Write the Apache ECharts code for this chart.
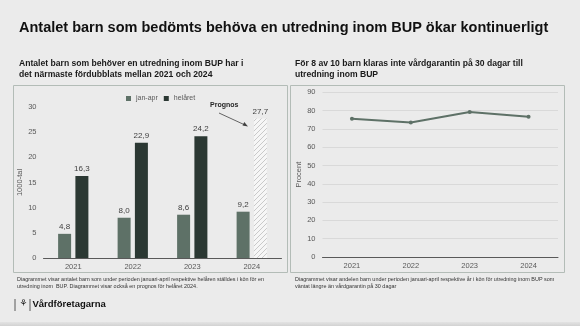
<!DOCTYPE html>
<html><head><meta charset="utf-8">
<script src="https://cdn.jsdelivr.net/npm/echarts@6/dist/echarts.min.js"></script>
<style>html,body{margin:0;padding:0;background:#ebebeb;}#c{width:580px;height:326px;}</style>
</head><body><div id="c"></div>
<script>
const years = ['2021','2022','2023','2024'];
const janApr = [4.8, 8.0, 8.6, 9.2];
const helaret = [16.3, 22.9, 24.2, 27.7];
const forecastIndex = 3;
const procent = [75.5, 73.5, 79.2, 76.6];
const leftTicks = {min:0, max:30, interval:5};
const rightTicks = {min:0, max:90, interval:10};

const F = 'Liberation Sans, Arial, sans-serif';
const cGreen = '#5e7167', cDark = '#2b3833', cTxt = '#404040', cAx = '#595959';

// hatch pattern for forecast bar
const pc = document.createElement('canvas'); pc.width = 5; pc.height = 5;
const px = pc.getContext('2d');
px.fillStyle = '#f6f6f6'; px.fillRect(0,0,5,5);
px.strokeStyle = '#c4c4c4'; px.lineWidth = 0.9;
px.beginPath(); px.moveTo(-1,6); px.lineTo(6,-1); px.moveTo(-1,1); px.lineTo(1,-1); px.moveTo(4,6); px.lineTo(6,4); px.stroke();

const fmt = p => String(Number(p.value).toFixed(1)).replace('.', ',');
const helData = helaret.map((v,i) => i === forecastIndex
  ? {value:v, itemStyle:{color:{image:pc, repeat:'repeat'}}}
  : v);

const chart = echarts.init(document.getElementById('c'), null, {renderer:'canvas'});
chart.setOption({
  backgroundColor:'#ebebeb',
  animation:false,
  textStyle:{fontFamily:F},
  legend:{data:['jan-apr','helåret'], left:121, top:90, itemWidth:5, itemHeight:5, itemGap:6,
    icon:'rect', textStyle:{fontSize:7, color:cAx, fontFamily:F}},
  grid:[
    {left:43.5, right:298.5, top:107, bottom:68, containLabel:false},
    {left:322.5, right:22, top:92.3, bottom:69, containLabel:false}
  ],
  xAxis:[
    {gridIndex:0, type:'category', data:years, axisTick:{show:false},
      axisLine:{lineStyle:{color:'#595959', width:1}},
      axisLabel:{fontSize:7.5, color:cAx, margin:5, fontFamily:F}},
    {gridIndex:1, type:'category', data:years, axisTick:{show:false},
      axisLine:{lineStyle:{color:'#595959', width:1}},
      axisLabel:{fontSize:7.5, color:cAx, margin:5, fontFamily:F}}
  ],
  yAxis:[
    {gridIndex:0, type:'value', min:leftTicks.min, max:leftTicks.max, interval:leftTicks.interval,
      name:'1000-tal', nameLocation:'middle', nameGap:14, nameRotate:90,
      nameTextStyle:{fontSize:7.5, color:cAx, fontFamily:F},
      splitLine:{show:false}, axisLine:{show:false}, axisTick:{show:false},
      axisLabel:{fontSize:7.5, color:cAx, margin:7, fontFamily:F}},
    {gridIndex:1, type:'value', min:rightTicks.min, max:rightTicks.max, interval:rightTicks.interval,
      name:'Procent', nameLocation:'middle', nameGap:16, nameRotate:90,
      nameTextStyle:{fontSize:7.5, color:cAx, fontFamily:F},
      splitLine:{show:true, lineStyle:{color:'#d9d9d9', width:1}}, axisLine:{show:false}, axisTick:{show:false},
      axisLabel:{fontSize:7.5, color:cAx, margin:7, fontFamily:F}}
  ],
  series:[
    {name:'jan-apr', type:'bar', xAxisIndex:0, yAxisIndex:0, data:janApr, barWidth:13, barGap:'33%',
      itemStyle:{color:cGreen},
      label:{show:true, position:'top', distance:3, fontSize:8, color:cTxt, formatter:fmt, fontFamily:F}},
    {name:'helåret', type:'bar', xAxisIndex:0, yAxisIndex:0, data:helData, barWidth:13,
      itemStyle:{color:cDark},
      label:{show:true, position:'top', distance:3, fontSize:8, color:cTxt, formatter:fmt, fontFamily:F}},
    {name:'Procent', type:'line', xAxisIndex:1, yAxisIndex:1, data:procent,
      lineStyle:{color:cGreen, width:2}, itemStyle:{color:cGreen},
      symbol:'circle', symbolSize:4}
  ],
  graphic:[
    {type:'rect', shape:{x:13.5, y:85.5, width:274, height:187}, style:{fill:'none', stroke:'#b3bcb7', lineWidth:1}, silent:true, z:-1},
    {type:'rect', shape:{x:290.5, y:85.5, width:274, height:187}, style:{fill:'none', stroke:'#b3bcb7', lineWidth:1}, silent:true, z:-1},
    {type:'text', left:19, top:20, style:{text:'Antalet barn som bedömts behöva en utredning inom BUP ökar kontinuerligt', font:'bold 14.5px '+F, fill:'#111'}},
    {type:'text', left:19, top:58, style:{text:'Antalet barn som behöver en utredning inom BUP har i\ndet närmaste fördubblats mellan 2021 och 2024', font:'bold 8.6px '+F, fill:'#1a1a1a', lineHeight:11}},
    {type:'text', left:295, top:58, style:{text:'För 8 av 10 barn klaras inte vårdgarantin på 30 dagar till\nutredning inom BUP', font:'bold 8.6px '+F, fill:'#1a1a1a', lineHeight:11}},
    {type:'text', left:210, top:101.5, style:{text:'Prognos', font:'bold 7px '+F, fill:'#262626'}},
    {type:'line', shape:{x1:219, y1:113, x2:245, y2:125}, style:{stroke:'#404040', lineWidth:0.8}},
    {type:'polygon', shape:{points:[[248,126.5],[242.5,125.6],[244.3,121.9]]}, style:{fill:'#404040'}},
    {type:'text', left:17, top:276.5, style:{text:'Diagrammet visar antalet barn som under perioden januari-april respektive helåren ställdes i kön för en\nutredning inom  BUP. Diagrammet visar också en prognos för helåret 2024.', font:'5.45px '+F, fill:'#333', lineHeight:6.6}},
    {type:'text', left:295, top:276.5, style:{text:'Diagrammet visar andelen barn under perioden januari-april respektive år i kön för utredning inom BUP som\nväntat längre än vårdgarantin på 30 dagar', font:'5.45px '+F, fill:'#333', lineHeight:6.6}},
    {type:'line', shape:{x1:15, y1:299, x2:15, y2:311}, style:{stroke:'#333', lineWidth:0.8}},
    {type:'text', left:19.5, top:299.5, style:{text:'⚘', font:'bold 9px DejaVu Sans', fill:'#1a1a1a'}},
    {type:'line', shape:{x1:30, y1:299, x2:30, y2:311}, style:{stroke:'#333', lineWidth:0.8}},
    {type:'text', left:32.5, top:299.5, style:{text:'Vårdföretagarna', font:'bold 9.5px '+F, fill:'#111'}},
    {type:'rect', shape:{x:0, y:322, width:580, height:4}, style:{fill:{type:'linear', x:0, y:0, x2:0, y2:1, colorStops:[{offset:0,color:'#e3e3e3'},{offset:1,color:'#d2d2d2'}]}}, silent:true}
  ]
});
</script></body></html>
